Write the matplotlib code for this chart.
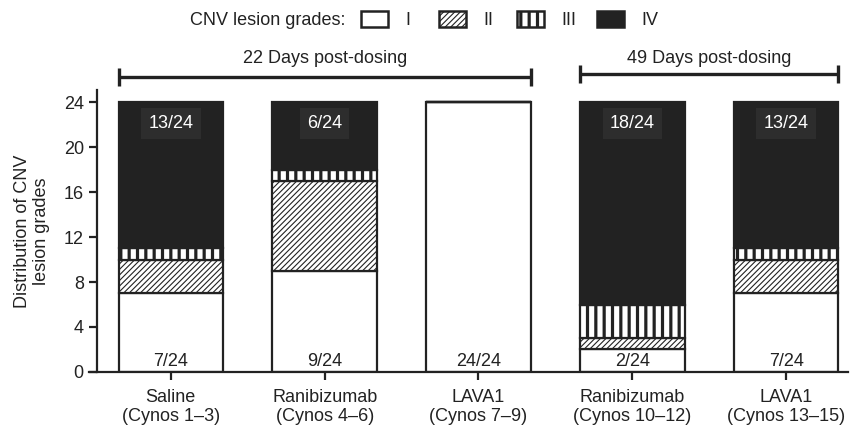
import matplotlib
matplotlib.use("Agg")
import matplotlib.pyplot as plt
from matplotlib.patches import Patch
import numpy as np

plt.rcParams['font.family'] = ['Liberation Sans', 'DejaVu Sans']

# Groups and lesion-grade counts (out of 24 lesions per group)
groups = ["Saline\n(Cynos 1\u20133)", "Ranibizumab\n(Cynos 4\u20136)", "LAVA1\n(Cynos 7\u20139)",
          "Ranibizumab\n(Cynos 10\u201312)", "LAVA1\n(Cynos 13\u201315)"]
grade_I = [7, 9, 24, 2, 7]
grade_II = [3, 8, 0, 1, 3]
grade_III = [1, 1, 0, 3, 1]
grade_IV = [13, 6, 0, 18, 13]
total = 24
grade_names = ["I", "II", "III", "IV"]
periods = ["22 Days post-dosing", "49 Days post-dosing"]
period_groups = [(0, 2), (3, 4)]

ink = "#222222"
plt.rcParams['hatch.linewidth'] = 0.8

fig = plt.figure(figsize=(8.53, 4.28), dpi=100)
ax = fig.add_axes([0.1137, 0.131, 0.880, 0.659])

x = np.arange(len(groups))
width = 0.68
bottom = np.zeros(len(groups))
styles = [
    dict(facecolor="white", hatch=None),
    dict(facecolor="white", hatch="//////"),
    dict(facecolor="white", hatch="||"),
    dict(facecolor=ink, hatch=None),
]
for vals, st in zip([grade_I, grade_II, grade_III, grade_IV], styles):
    vals = np.array(vals, dtype=float)
    bars = ax.bar(x, vals, width, bottom=bottom, facecolor=st["facecolor"],
                  edgecolor=ink, linewidth=1.6, hatch=st["hatch"], zorder=2)
    if st["hatch"] == "||":
        for b in bars:
            b.set_hatch_linewidth(2.3)
    bottom += vals

# count labels: grade I at the bottom, grade IV in a box at the top
for xi, n1, n4 in zip(x, grade_I, grade_IV):
    ax.text(xi, 0.95, f"{n1}/{total}", ha="center", va="center", fontsize=13,
            color=ink, zorder=4)
    if n4 > 0:
        ax.text(xi, 22.1, f"{n4}/{total}", ha="center", va="center", fontsize=13,
                color="white", zorder=4,
                bbox=dict(boxstyle="square,pad=0.4", facecolor="#2d2d2d",
                          edgecolor="none"))

ax.set_xlim(-0.48, 4.40)
ax.set_ylim(0, 25.1)
ax.set_yticks(np.arange(0, 25, 4))
ax.set_xticks(x)
ax.set_xticklabels(groups, fontsize=13, color=ink, linespacing=1.2)
ax.tick_params(axis="y", labelsize=13, colors=ink, width=1.6, length=6)
ax.tick_params(axis="x", colors=ink, width=1.6, length=6, pad=6)
for s in ["top", "right"]:
    ax.spines[s].set_visible(False)
for s in ["left", "bottom"]:
    ax.spines[s].set_color(ink)
    ax.spines[s].set_linewidth(1.6)
ax.spines["bottom"].set_bounds(-0.53, 4.40)
ax.set_ylabel("Distribution of CNV\nlesion grades", fontsize=13, color=ink,
              labelpad=10, linespacing=1.15)

# period brackets above the bars
for label, (g0, g1), yb in zip(periods, period_groups, [26.25, 26.55]):
    x0, x1 = g0 - width / 2, g1 + width / 2
    ax.plot([x0, x1], [yb, yb], color=ink, lw=2.4, clip_on=False, solid_capstyle="butt")
    for xe in (x0, x1):
        ax.plot([xe, xe], [yb - 0.8, yb + 0.8], color=ink, lw=2.4, clip_on=False,
                solid_capstyle="butt")
    ax.text((x0 + x1) / 2, 27.15, label, ha="center", va="bottom",
            fontsize=13, color=ink)

# legend row: one evenly spaced entry per grade
handles = [
    Patch(facecolor="white", edgecolor=ink, linewidth=1.8),
    Patch(facecolor="white", edgecolor=ink, linewidth=1.8, hatch="//////"),
    Patch(facecolor="white", edgecolor=ink, linewidth=1.8, hatch="||"),
    Patch(facecolor=ink, edgecolor=ink, linewidth=1.8),
]
fig.text(0.4045, 0.953, "CNV lesion grades:", fontsize=13, color=ink,
         ha="right", va="center")
entry_x = [0.423, 0.5147, 0.6061, 0.6999]
for h, name, ex in zip(handles, grade_names, entry_x):
    if h.get_hatch() == "||":
        h.set_hatch_linewidth(2.3)
    leg = fig.legend([h], [name], loc="center left", bbox_to_anchor=(ex, 0.953),
                     frameon=False, fontsize=13, handlelength=1.5,
                     handleheight=0.95, handletextpad=0.95, borderpad=0,
                     borderaxespad=0)
    for t in leg.get_texts():
        t.set_color(ink)
    for lh in leg.legend_handles:
        if lh.get_hatch() == "||":
            lh.set_hatch_linewidth(2.3)

fig.savefig("out.png", dpi=100)
